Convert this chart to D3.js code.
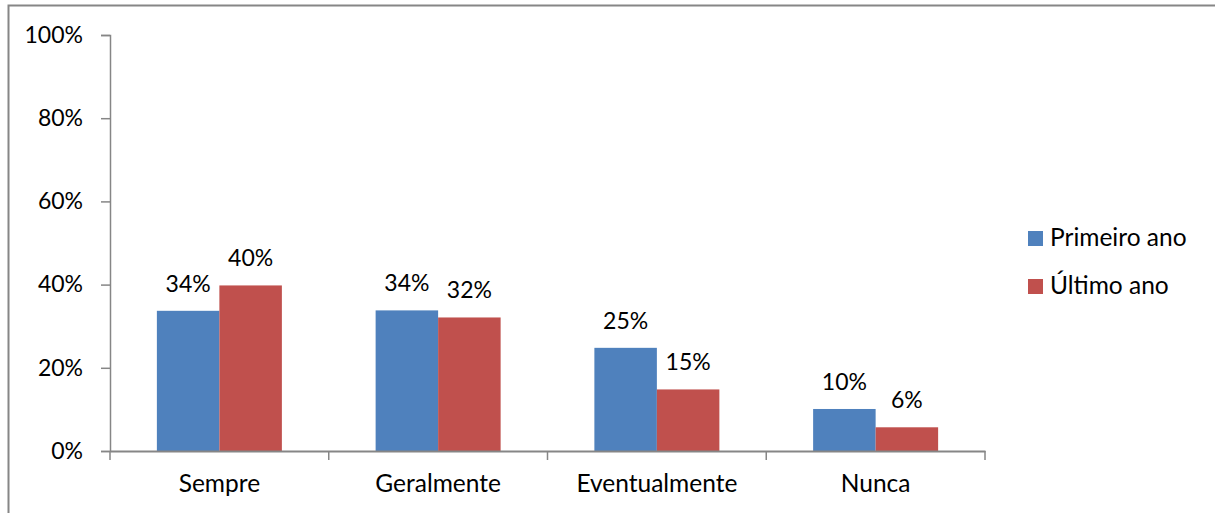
<!DOCTYPE html>
<html>
<head>
<meta charset="utf-8">
<script src="https://cdn.jsdelivr.net/npm/d3@7"></script>
<style>
  body { margin: 0; background: #fff; }
  svg { display: block; font-family: Lato, "Open Sans", sans-serif; }
</style>
</head>
<body>
<svg id="chart" width="1215" height="513"></svg>
<script>
const categories = ['Sempre', 'Geralmente', 'Eventualmente', 'Nunca'];
const seriesNames = ['Primeiro ano', 'Último ano'];
const primeiro = [0.337, 0.338, 0.248, 0.101];
const ultimo = [0.398, 0.321, 0.148, 0.057];
const labelsPrimeiro = ['34%', '34%', '25%', '10%'];
const labelsUltimo = ['40%', '32%', '15%', '6%'];
const yTicks = [0, 0.2, 0.4, 0.6, 0.8, 1];
const colors = ['#4F81BD', '#C0504D'];

const svg = d3.select('#chart');
const axisColor = '#868686';

// outer frame (runs off the right and bottom of the picture)
svg.append('rect')
  .attr('x', 8.5).attr('y', 5.5)
  .attr('width', 1220).attr('height', 520)
  .attr('fill', 'none')
  .attr('stroke', axisColor)
  .attr('stroke-width', 2);

const x0 = 110, x1 = 985, yTop = 35, yBottom = 451;

const x = d3.scaleBand().domain(categories).range([x0, x1]).paddingInner(0).paddingOuter(0);
const y = d3.scaleLinear().domain([0, 1]).range([yBottom, yTop]);
const barW = 62.5;

const data = categories.map((c, i) => ({
  cat: c,
  vals: [
    { v: primeiro[i], label: labelsPrimeiro[i], s: 0 },
    { v: ultimo[i], label: labelsUltimo[i], s: 1 },
  ],
}));

const groups = svg.append('g')
  .selectAll('g')
  .data(data)
  .enter()
  .append('g')
  .attr('transform', d => `translate(${x(d.cat) + x.bandwidth() / 2 - barW},0)`);

groups.selectAll('rect')
  .data(d => d.vals)
  .enter()
  .append('rect')
  .attr('x', d => d.s * barW)
  .attr('y', d => y(d.v))
  .attr('width', barW)
  .attr('height', d => yBottom - y(d.v))
  .attr('fill', d => colors[d.s]);

groups.selectAll('text')
  .data(d => d.vals)
  .enter()
  .append('text')
  .attr('x', d => d.s * barW + barW / 2)
  .attr('y', d => y(d.v) - 19)
  .attr('text-anchor', 'middle')
  .attr('font-size', 23)
  .attr('fill', '#000')
  .text(d => d.label);

// y axis
const yAxis = svg.append('g')
  .attr('transform', `translate(${x0},0)`)
  .call(d3.axisLeft(y).tickValues(yTicks).tickFormat(d3.format('.0%')).tickSize(9).tickPadding(18));
yAxis.select('.domain').attr('stroke', axisColor).attr('stroke-width', 1.5);
yAxis.selectAll('.tick line').attr('stroke', axisColor).attr('stroke-width', 1.5);
yAxis.selectAll('.tick text').attr('font-size', 23).attr('font-family', 'Lato').attr('fill', '#000');

// x axis
const xAxis = svg.append('g')
  .attr('transform', `translate(0,${yBottom})`)
  .call(d3.axisBottom(x).tickSize(0).tickPadding(24));
xAxis.select('.domain').attr('stroke', axisColor).attr('stroke-width', 2);
xAxis.selectAll('.tick text').attr('font-size', 24.5).attr('font-family', 'Lato').attr('fill', '#000');

const edges = categories.map(c => x(c)).concat([x1]);
svg.append('g')
  .selectAll('line')
  .data(edges)
  .enter()
  .append('line')
  .attr('x1', d => d).attr('x2', d => d)
  .attr('y1', yBottom).attr('y2', yBottom + 9)
  .attr('stroke', axisColor)
  .attr('stroke-width', 1.5);

// legend
const legend = svg.append('g')
  .selectAll('g')
  .data(seriesNames)
  .enter()
  .append('g')
  .attr('transform', (d, i) => `translate(1028,${231 + i * 48})`);
legend.append('rect')
  .attr('width', 15).attr('height', 15)
  .attr('fill', (d, i) => colors[i]);
legend.append('text')
  .attr('x', 22).attr('y', 14.5)
  .attr('font-size', 24.5)
  .attr('fill', '#000')
  .text(d => d);
</script>
</body>
</html>
